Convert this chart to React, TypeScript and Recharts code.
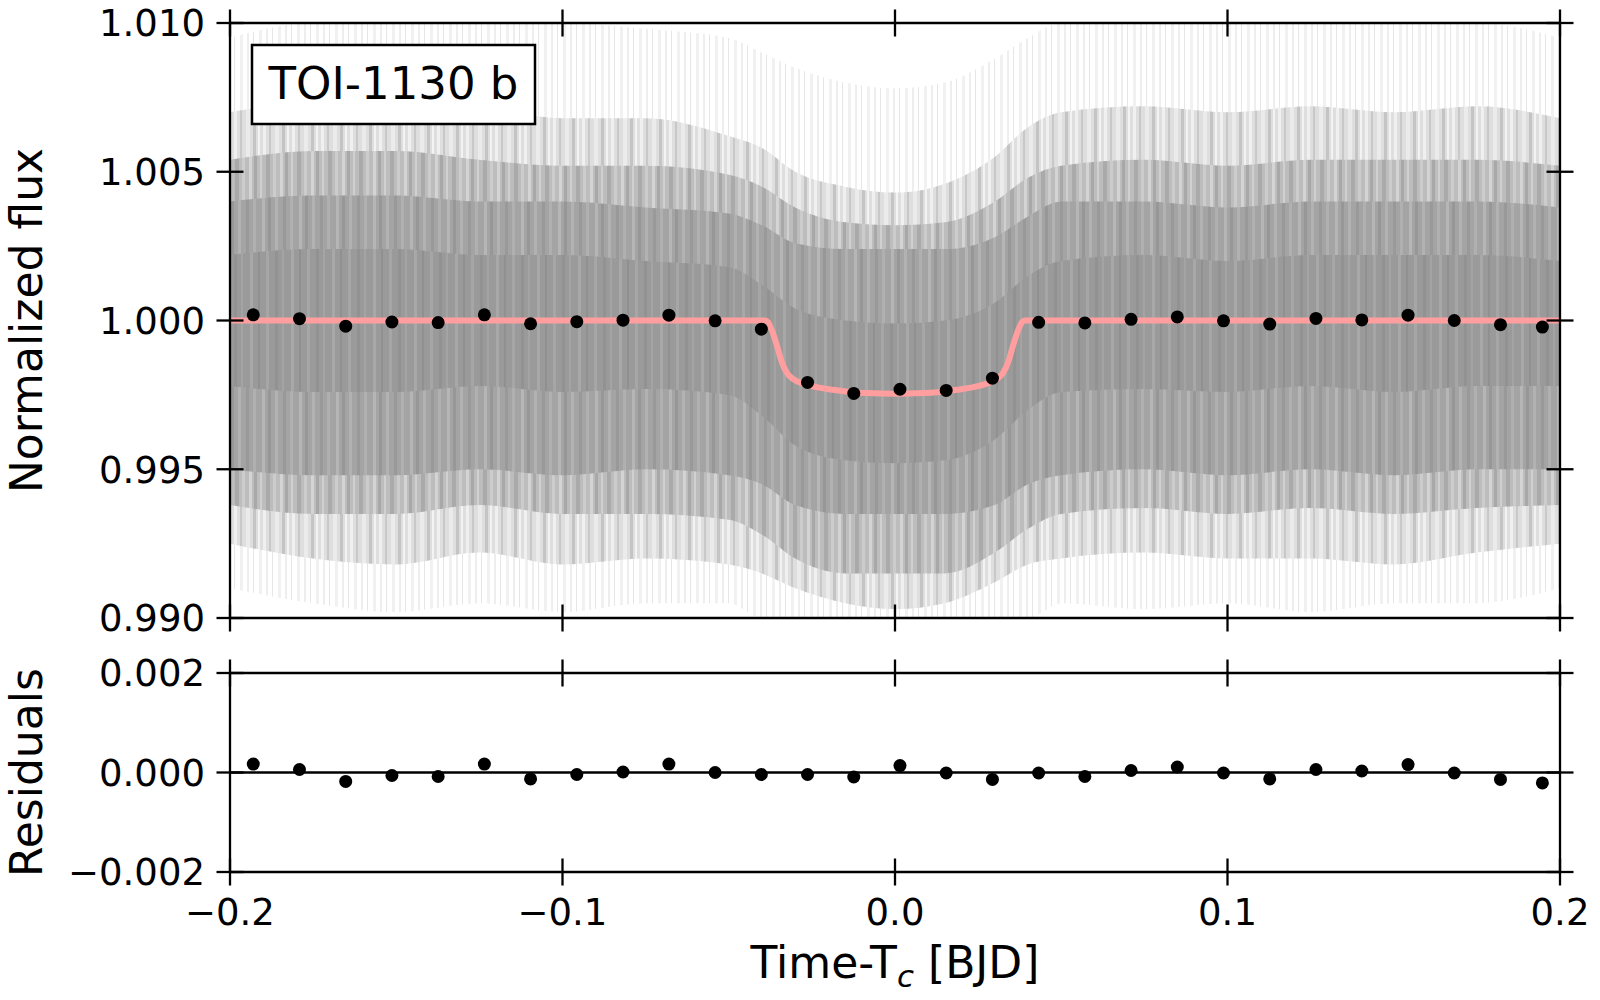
import React from "react";
import { ComposedChart, Area, Line, Scatter, XAxis, YAxis, ReferenceLine } from "recharts";

const FONT = "'DejaVu Sans', sans-serif";
const INK = "#000";
const TICK_HALF = 13.5;
const AXIS_W = 2.3;

const xTicks = [-0.2, -0.1, 0, 0.1, 0.2];
const fluxTicks = [0.99, 0.995, 1.0, 1.005, 1.01];
const residTicks = [-0.002, 0, 0.002];

// 20-minute binned points
const binTime = [
  -0.193, -0.1791, -0.1652, -0.1513, -0.1374, -0.1235, -0.1096, -0.0957, -0.0818, -0.068,
  -0.0541, -0.0402, -0.0263, -0.0124, 0.0015, 0.0154, 0.0293, 0.0432, 0.0571, 0.071,
  0.0849, 0.0988, 0.1127, 0.1266, 0.1404, 0.1543, 0.1682, 0.1821, 0.1947,
];
const binFlux = [
  1.00019, 1.00006, 0.99981, 0.99995, 0.99993, 1.00019, 0.99989, 0.99996, 1.00001, 1.00018,
  0.99999, 0.99971, 0.99792, 0.99755, 0.99769, 0.99765, 0.99806, 0.99994, 0.99992, 1.00004,
  1.00012, 0.99999, 0.99988, 1.00007, 1.00002, 1.00018, 1.0, 0.99986, 0.99978,
];
const binResid = [
  0.00017, 0.00006, -0.00018, -0.00006, -0.00008, 0.00017, -0.00013, -0.00004, 0.00001, 0.00017,
  0.0, -0.00004, -0.00004, -0.00009, 0.00014, -0.00001, -0.00014, -0.00001, -0.00008, 0.00004,
  0.00011, -0.00001, -0.00013, 0.00006, 0.00003, 0.00016, -0.00001, -0.00014, -0.00021,
];

// transit model
const modelTime = [
  -0.2, -0.0391, -0.0381, -0.0371, -0.0356, -0.0341, -0.0326, -0.0306, -0.0276, -0.0236,
  -0.0186, -0.0135, -0.0085, 0, 0.0085, 0.0135, 0.0186, 0.0236, 0.0276, 0.0306,
  0.0326, 0.0341, 0.0356, 0.0371, 0.0381, 0.0391, 0.2,
];
const modelFlux = [
  1.0, 1.0, 0.99993, 0.99969, 0.99919, 0.99862, 0.99825, 0.99803, 0.99788, 0.99776,
  0.99767, 0.9976, 0.99756, 0.99754, 0.99756, 0.9976, 0.99767, 0.99776, 0.99788, 0.99803,
  0.99825, 0.99862, 0.99919, 0.99969, 0.99993, 1.0, 1.0,
];

// spread of the unbinned photometry (envelopes)
const noiseX = [
  -0.2, -0.175, -0.15, -0.125, -0.1, -0.075, -0.05, -0.04, -0.03, -0.015, 0,
  0.015, 0.03, 0.04, 0.05, 0.075, 0.1, 0.125, 0.15, 0.175, 0.2,
];
const faintHi = [1.0095, 1.01, 1.01, 1.01, 1.01, 1.0098, 1.0095, 1.009, 1.0085, 1.008, 1.0078, 1.008, 1.0088, 1.0095, 1.01, 1.01, 1.01, 1.01, 1.01, 1.01, 1.0095];
const faintLo = [0.991, 0.9905, 0.9902, 0.9905, 0.9902, 0.9905, 0.9905, 0.99, 0.99, 0.99, 0.99, 0.99, 0.99, 0.99, 0.9905, 0.9903, 0.9905, 0.9902, 0.9905, 0.9905, 0.991];
const lightHi = [1.007, 1.0074, 1.0076, 1.0072, 1.0068, 1.0068, 1.0062, 1.0058, 1.005, 1.0045, 1.0043, 1.0046, 1.0055, 1.0065, 1.007, 1.0072, 1.007, 1.0072, 1.007, 1.0072, 1.0068];
const lightLo = [0.9925, 0.992, 0.9918, 0.9922, 0.9918, 0.992, 0.9918, 0.9915, 0.991, 0.9905, 0.9903, 0.9905, 0.9912, 0.9918, 0.992, 0.9922, 0.992, 0.992, 0.9918, 0.9922, 0.9925];
const midHi = [1.0054, 1.0057, 1.0057, 1.0054, 1.0052, 1.0052, 1.0049, 1.0045, 1.0038, 1.0033, 1.0032, 1.0033, 1.004, 1.0048, 1.0052, 1.0054, 1.0052, 1.0054, 1.0054, 1.0054, 1.0052];
const midLo = [0.9938, 0.9935, 0.9935, 0.9938, 0.9935, 0.9935, 0.9933, 0.9928, 0.992, 0.9915, 0.9915, 0.9915, 0.9922, 0.993, 0.9935, 0.9937, 0.9935, 0.9937, 0.9935, 0.9937, 0.9938];
const denseHi = [1.004, 1.0042, 1.0042, 1.004, 1.004, 1.0038, 1.0036, 1.0032, 1.0026, 1.0024, 1.0024, 1.0024, 1.0028, 1.0035, 1.004, 1.004, 1.0038, 1.004, 1.004, 1.004, 1.0038];
const denseLo = [0.995, 0.9948, 0.9948, 0.995, 0.9948, 0.995, 0.9948, 0.9945, 0.9938, 0.9935, 0.9935, 0.9935, 0.9938, 0.9945, 0.9948, 0.995, 0.9948, 0.995, 0.9948, 0.995, 0.995];
const coreHi = [1.0022, 1.0024, 1.0024, 1.0022, 1.0022, 1.002, 1.0018, 1.0012, 1.0004, 1.0, 0.9999, 1.0, 1.0006, 1.0015, 1.002, 1.0022, 1.002, 1.0022, 1.0022, 1.0022, 1.002];
const coreLo = [0.9978, 0.9976, 0.9976, 0.9978, 0.9976, 0.9977, 0.9975, 0.9968, 0.9958, 0.9953, 0.9952, 0.9953, 0.996, 0.997, 0.9976, 0.9977, 0.9976, 0.9978, 0.9976, 0.9978, 0.9978];

const noiseRows = noiseX.map((x, i) => ({
  x,
  faint: [faintLo[i], faintHi[i]],
  light: [lightLo[i], lightHi[i]],
  mid: [midLo[i], midHi[i]],
  dense: [denseLo[i], denseHi[i]],
  core: [coreLo[i], coreHi[i]],
}));
const modelRows = modelTime.map((x, i) => ({ x, y: modelFlux[i] }));
const binRows = binTime.map((x, i) => ({ x, y: binFlux[i] }));
const residRows = binTime.map((x, i) => ({ x, y: binResid[i] }));

function fmt(v: number, digits: number) {
  const n = Math.abs(v) < 1e-12 ? 0 : v;
  return n.toFixed(digits).replace("-", "\u2212");
}

const hTick = (labels: boolean, digits: number) => (p: any) => {
  const { x, y, payload } = p;
  return (
    <g>
      <line x1={x - TICK_HALF} x2={x + TICK_HALF} y1={y} y2={y} stroke={INK} strokeWidth={AXIS_W} />
      {labels && (
        <text x={x - 25} y={y} dy="0.36em" textAnchor="end" fontSize={37} fontFamily={FONT} fill={INK}>
          {fmt(payload.value, digits)}
        </text>
      )}
    </g>
  );
};

const vTick = (labels: boolean) => (p: any) => {
  const { x, y, payload } = p;
  return (
    <g>
      <line x1={x} x2={x} y1={y - TICK_HALF} y2={y + TICK_HALF} stroke={INK} strokeWidth={AXIS_W} />
      {labels && (
        <text x={x} y={y + 53} textAnchor="middle" fontSize={37} fontFamily={FONT} fill={INK}>
          {fmt(payload.value, 1)}
        </text>
      )}
    </g>
  );
};

// vertical streak textures for the scatter of raw points
function Streaks({ id, w, base, marks }: { id: string; w: number; base?: string; marks: [number, number, string][] }) {
  return (
    <pattern id={id} width={w} height={8} patternUnits="userSpaceOnUse">
      {base && <rect width={w} height={8} fill={base} />}
      {marks.map(([mx, mw, c], i) => (
        <rect key={i} x={mx} width={mw} height={8} fill={c} />
      ))}
    </pattern>
  );
}

const axisLine = { stroke: INK, strokeWidth: AXIS_W };

function frameAxes(yTicks: number[], yDigits: number, yDomain: [number, number], bottomLabels: boolean) {
  return [
    <XAxis
      key="xb"
      dataKey="x"
      type="number"
      domain={[-0.2, 0.2]}
      allowDataOverflow
      ticks={xTicks}
      interval={0}
      height={1}
      tickSize={0}
      tickMargin={0}
      tickLine={false}
      axisLine={axisLine}
      tick={vTick(bottomLabels)}
    />,
    <XAxis
      key="xt"
      xAxisId="top"
      orientation="top"
      dataKey="x"
      type="number"
      domain={[-0.2, 0.2]}
      allowDataOverflow
      ticks={xTicks}
      interval={0}
      height={1}
      tickSize={0}
      tickMargin={0}
      tickLine={false}
      axisLine={axisLine}
      tick={vTick(false)}
    />,
    <YAxis
      key="yl"
      type="number"
      domain={yDomain}
      allowDataOverflow
      ticks={yTicks}
      interval={0}
      width={230}
      tickSize={0}
      tickMargin={0}
      tickLine={false}
      axisLine={axisLine}
      tick={hTick(true, yDigits)}
    />,
    <YAxis
      key="yr"
      yAxisId="right"
      orientation="right"
      type="number"
      domain={yDomain}
      allowDataOverflow
      ticks={yTicks}
      interval={0}
      width={1}
      tickSize={0}
      tickMargin={0}
      tickLine={false}
      axisLine={axisLine}
      tick={hTick(false, yDigits)}
    />,
  ];
}

const dotShape = (p: any) => <circle cx={p.cx} cy={p.cy} r={6.5} fill={INK} />;

export default function App() {
  return (
    <div style={{ position: "absolute", left: 0, top: 0, width: 1600, height: 1000, background: "#fff", fontFamily: FONT }}>
      <div style={{ position: "absolute", left: 0, top: 0 }}>
        <ComposedChart width={1600} height={640} data={noiseRows} margin={{ top: 22, right: 39, bottom: 21, left: 0 }}>
          <defs>
            <Streaks id="pFaint" w={19} marks={[[0, 2, "#eeeeee"], [6, 1, "#e6e6e6"], [12, 3, "#f1f1f1"]]} />
            <Streaks id="pLight" w={29} base="#dedede" marks={[[2, 3, "#f0f0f0"], [8, 2, "#c8c8c8"], [14, 4, "#ebebeb"], [21, 3, "#c4c4c4"], [26, 2, "#f3f3f3"]]} />
            <Streaks id="pMid" w={31} base="#bdbdbd" marks={[[1, 3, "#d4d4d4"], [6, 3, "#a8a8a8"], [12, 2, "#d0d0d0"], [18, 4, "#aaaaaa"], [25, 3, "#cccccc"]]} />
            <Streaks id="pDense" w={37} base="#a4a4a4" marks={[[3, 3, "#b6b6b6"], [9, 3, "#979797"], [16, 3, "#b2b2b2"], [24, 3, "#999999"], [31, 3, "#b0b0b0"]]} />
            <Streaks id="pCore" w={41} base="#9a9a9a" marks={[[4, 3, "#a8a8a8"], [12, 2, "#909090"], [20, 3, "#a6a6a6"], [29, 3, "#929292"], [36, 2, "#a4a4a4"]]} />
          </defs>
          {frameAxes(fluxTicks, 3, [0.99, 1.01], false)}
          <Area dataKey="faint" type="monotone" stroke="none" fill="url(#pFaint)" fillOpacity={1} isAnimationActive={false} activeDot={false} />
          <Area dataKey="light" type="monotone" stroke="none" fill="url(#pLight)" fillOpacity={1} isAnimationActive={false} activeDot={false} />
          <Area dataKey="mid" type="monotone" stroke="none" fill="url(#pMid)" fillOpacity={1} isAnimationActive={false} activeDot={false} />
          <Area dataKey="dense" type="monotone" stroke="none" fill="url(#pDense)" fillOpacity={1} isAnimationActive={false} activeDot={false} />
          <Area dataKey="core" type="monotone" stroke="none" fill="url(#pCore)" fillOpacity={1} isAnimationActive={false} activeDot={false} />
          <Line data={modelRows} dataKey="y" type="monotone" stroke="#ff9e9e" strokeWidth={6} dot={false} activeDot={false} isAnimationActive={false} />
          <Scatter data={binRows} dataKey="y" fill={INK} shape={dotShape} isAnimationActive={false} />
        </ComposedChart>
      </div>
      <div style={{ position: "absolute", left: 0, top: 640 }}>
        <ComposedChart width={1600} height={360} data={residRows} margin={{ top: 32, right: 39, bottom: 127, left: 0 }}>
          {frameAxes(residTicks, 3, [-0.002, 0.002], true)}
          <ReferenceLine y={0} stroke={INK} strokeWidth={2.5} />
          <Scatter dataKey="y" fill={INK} shape={dotShape} isAnimationActive={false} />
        </ComposedChart>
      </div>
      <svg width={1600} height={1000} style={{ position: "absolute", left: 0, top: 0, pointerEvents: "none" }}>
        <rect x={252} y={45} width={283} height={79} fill="#fff" stroke={INK} strokeWidth={2.5} />
        <text x={393.5} y={98.5} textAnchor="middle" fontSize={45} fontFamily={FONT} fill={INK}>
          TOI-1130 b
        </text>
        <text transform="translate(42, 320.5) rotate(-90)" textAnchor="middle" fontSize={44} fontFamily={FONT} fill={INK}>
          Normalized flux
        </text>
        <text transform="translate(42, 772.5) rotate(-90)" textAnchor="middle" fontSize={44} fontFamily={FONT} fill={INK}>
          Residuals
        </text>
        <text x={895} y={978} textAnchor="middle" fontSize={44} fontFamily={FONT} fill={INK}>
          Time-T
          <tspan fontSize={31} fontStyle="italic" dy={9}>c</tspan>
          <tspan dy={-9}> [BJD]</tspan>
        </text>
      </svg>
    </div>
  );
}
